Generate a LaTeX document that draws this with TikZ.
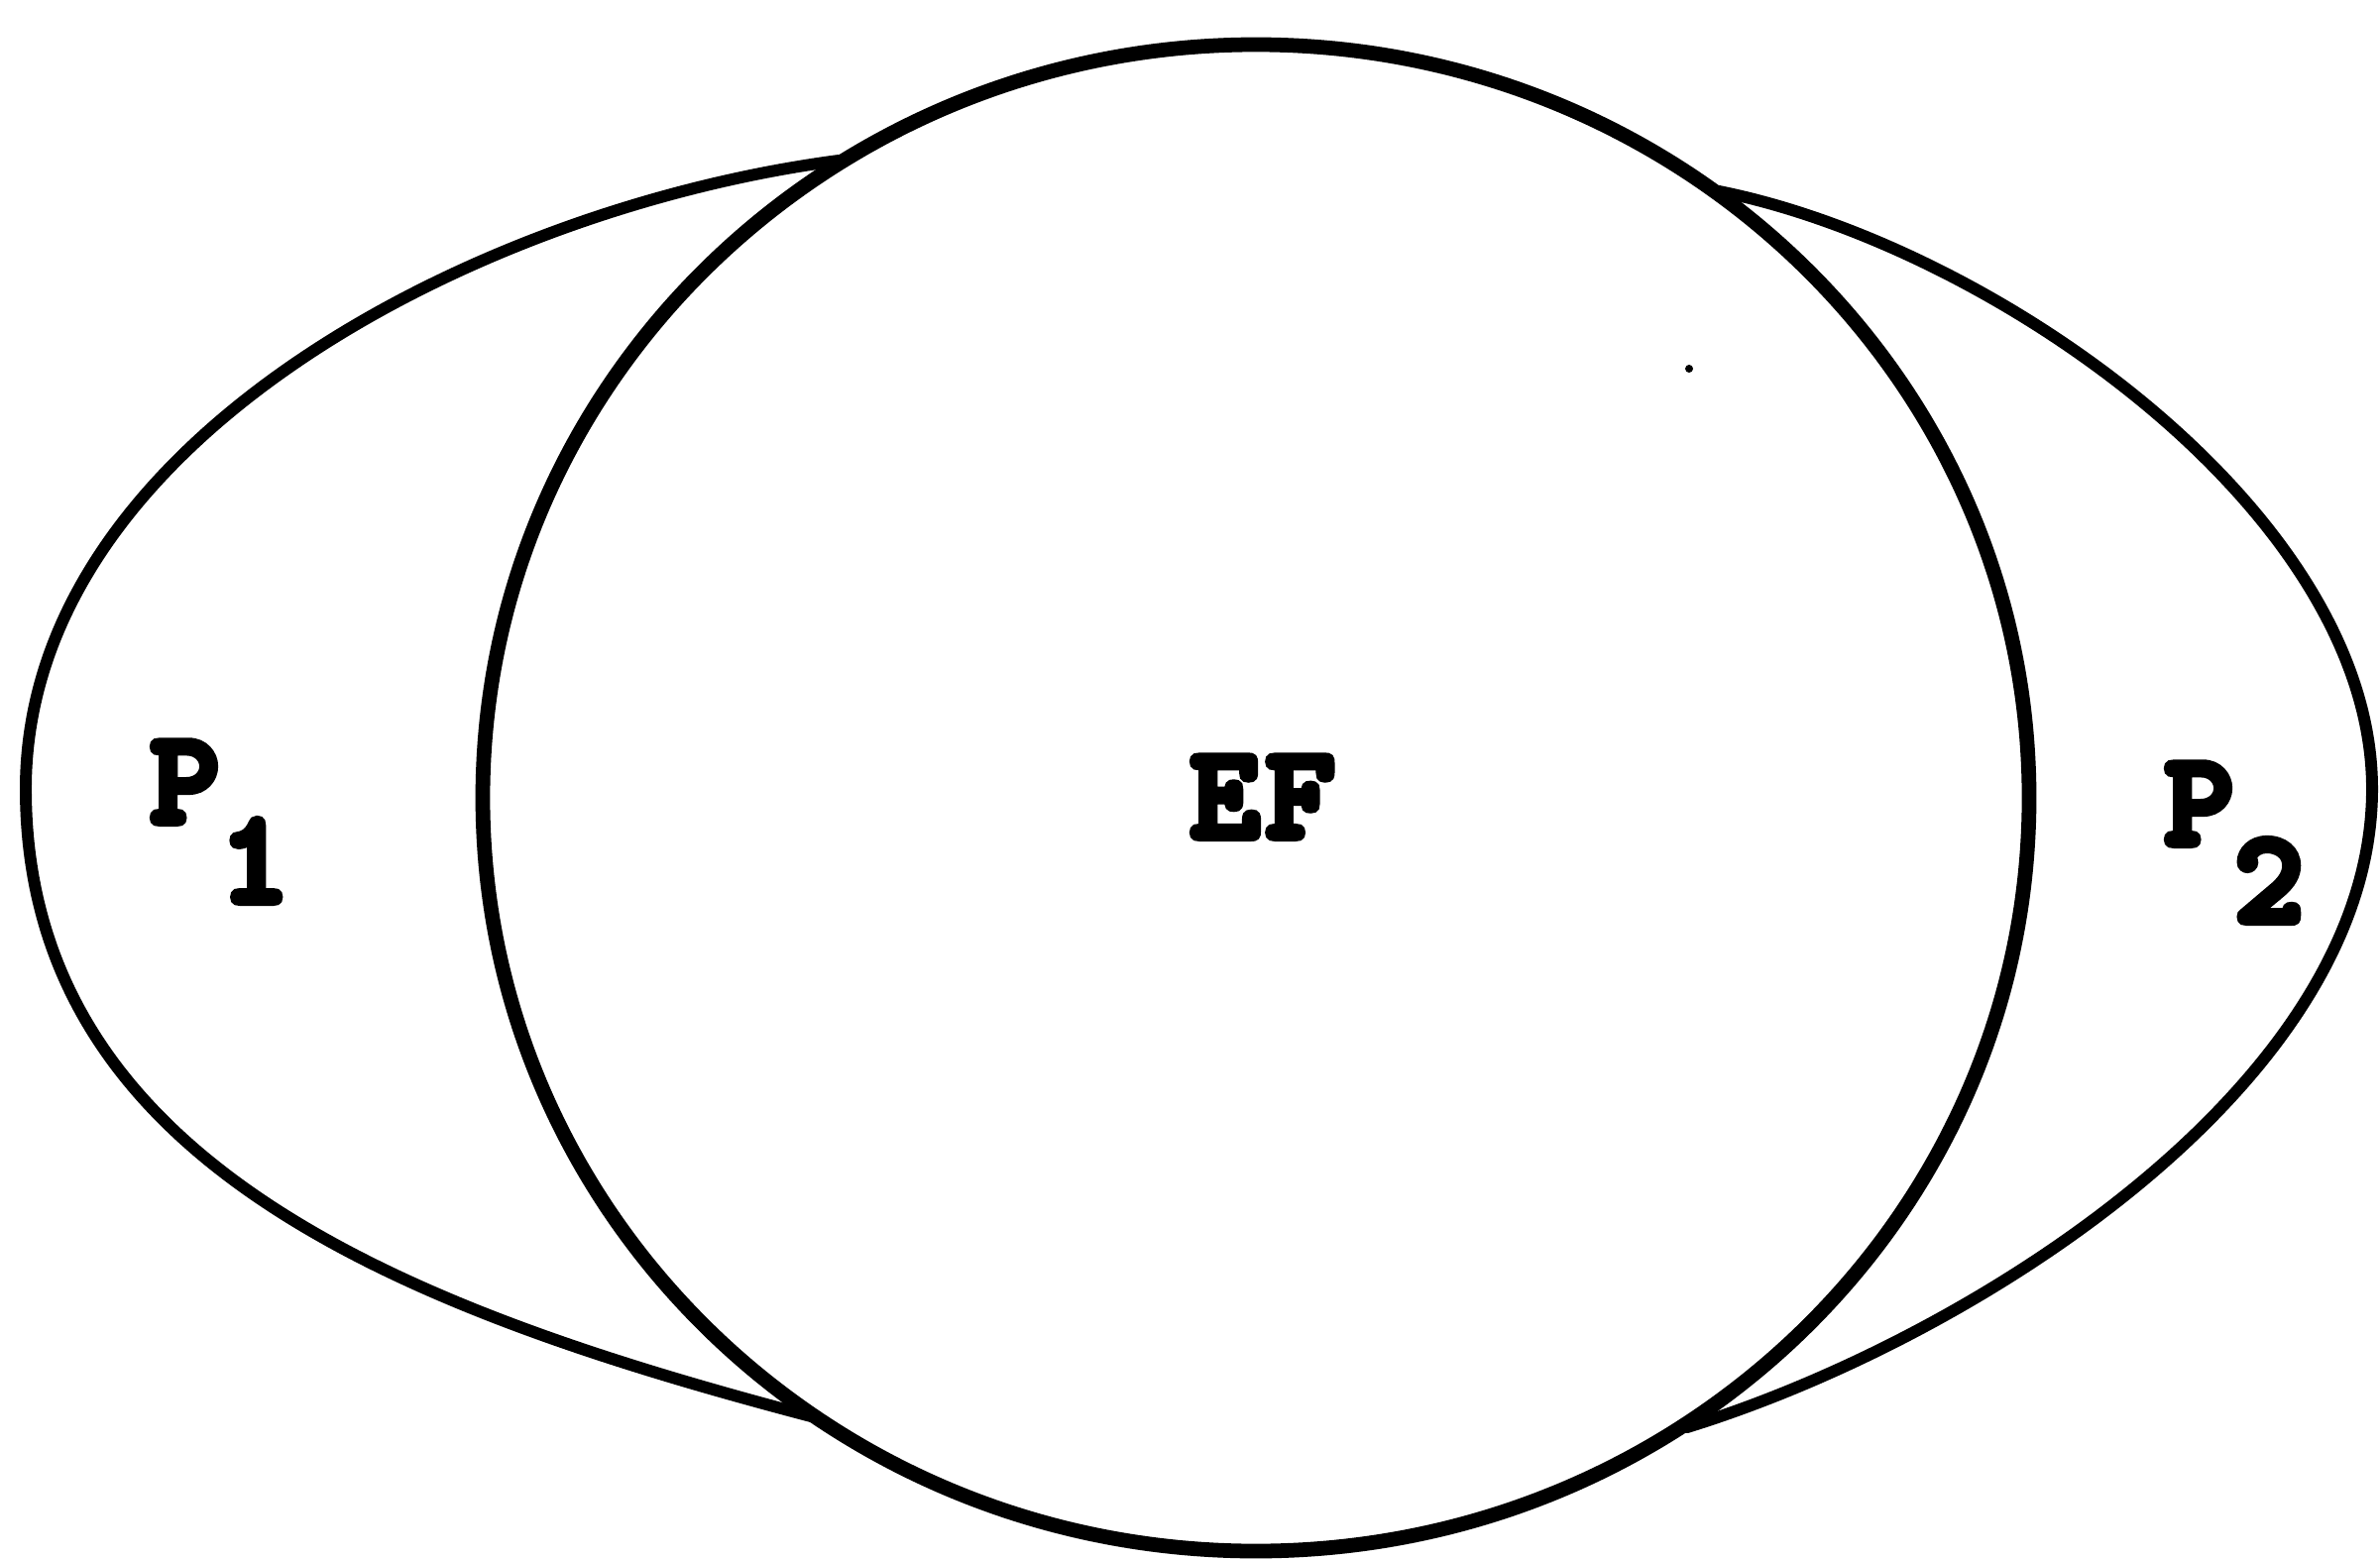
\documentclass[tikz,border=0pt]{standalone}
\usepackage{fontspec}
\newfontfamily\tyfont[FakeBold=6]{lmmonolt10-bold.otf}
\begin{document}
\begin{tikzpicture}[x=0.01cm,y=-0.01cm,
  ring/.style={line width=4.2pt},
  lens/.style={line width=3.4pt, line cap=round},
  lbl/.style={anchor=base west, inner sep=0pt, font=\fontsize{38}{46}\selectfont\tyfont}]
\useasboundingbox (0,0) rectangle (2401,1573);
% central circle EF
\coordinate (c) at (1267,805);
\draw[ring] (c) ellipse [x radius=780, y radius=760];
% left region P1
\coordinate (l1) at (846,162);
\coordinate (lm) at (26,796);
\coordinate (l2) at (822,1430);
\draw[lens] (l1) .. controls (480,210) and (26,446) .. (lm)
                 .. controls (26,1176) and (414,1323) .. (l2);
% right region P2
\coordinate (r1) at (1734,193);
\coordinate (rm) at (2393,796);
\coordinate (r2) at (1702,1440);
\draw[lens] (r1) .. controls (2010,248) and (2393,516) .. (rm)
                 .. controls (2393,1096) and (1987,1352) .. (r2);
% speck
\fill (1704,372) circle [radius=4];
% labels
\node[lbl] (p1) at (151,830) {P\raisebox{-0.8cm}{1}};
\node[lbl] (ef) at (1200,845) {E\kern0.06cm F};
\node[lbl] (p2) at (2183,852) {P\raisebox{-0.78cm}{2}};
\end{tikzpicture}
\end{document}
